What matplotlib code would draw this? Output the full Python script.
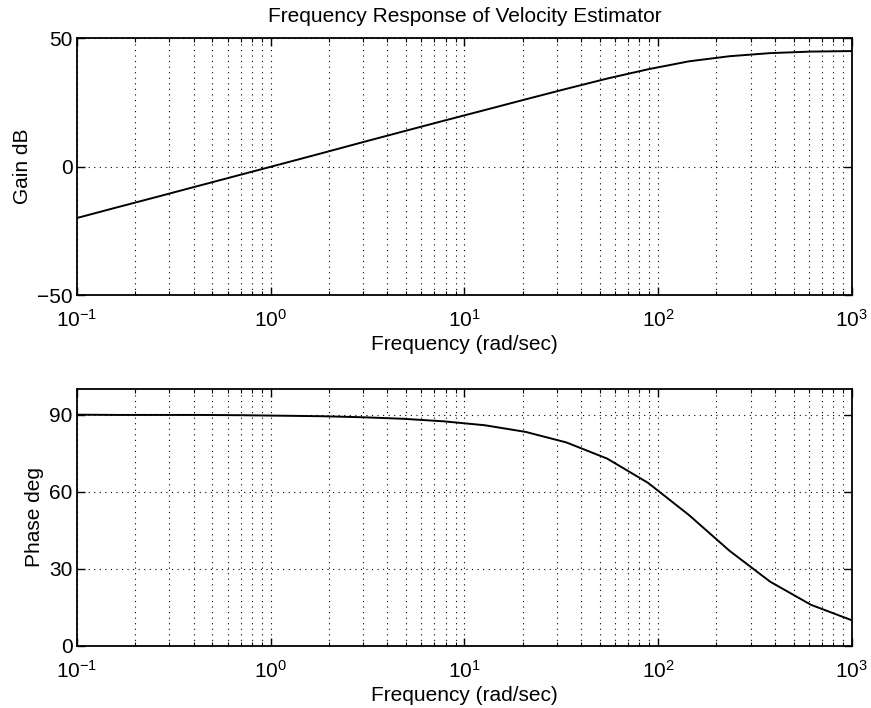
import matplotlib
matplotlib.use("Agg")
import matplotlib.pyplot as plt
from matplotlib.ticker import LogLocator, NullFormatter

plt.rcParams['font.family'] = ['Liberation Sans', 'DejaVu Sans']
plt.rcParams['mathtext.fontset'] = 'custom'
plt.rcParams['mathtext.rm'] = 'Liberation Sans'
plt.rcParams['mathtext.it'] = 'Liberation Sans'

# Data
freq = [0.1, 0.162, 0.264, 0.428, 0.695, 1.13, 1.83, 2.98, 4.83, 7.85,
        12.7, 20.7, 33.6, 54.6, 88.6, 144, 234, 379, 616, 1000]
gain_db = [-20.0, -15.8, -11.6, -7.4, -3.2, 1.0, 5.2, 9.5, 13.7, 17.9,
           22.0, 26.2, 30.3, 34.3, 37.9, 41.0, 43.0, 44.2, 44.8, 45.0]
phase_deg = [90.0, 89.9, 89.9, 89.9, 89.8, 89.6, 89.4, 89.0, 88.4, 87.4,
             85.9, 83.3, 79.2, 72.9, 63.5, 51.0, 37.0, 25.0, 16.0, 10.0]

gain_ticks = [-50, 0, 50]
phase_ticks = [0, 30, 60, 90]
title = "Frequency Response of Velocity Estimator"
xlabel = "Frequency (rad/sec)"

fig = plt.figure(figsize=(8.71, 7.08), dpi=100)
ax1 = fig.add_axes([0.0884, 0.5833, 0.8896, 0.3627])
ax2 = fig.add_axes([0.0884, 0.0876, 0.8896, 0.3630])

FS = 15

def style(ax, yticks, ylim, ylabel):
    ax.set_xscale('log')
    ax.set_xlim(0.1, 1000)
    ax.set_ylim(*ylim)
    ax.set_yticks(yticks)
    ax.yaxis.set_major_formatter(matplotlib.ticker.FuncFormatter(
        lambda v, p: ('\u2212%d' % -v) if v < 0 else '%d' % v))
    ax.xaxis.set_major_locator(LogLocator(base=10, numticks=10))
    ax.xaxis.set_minor_locator(LogLocator(base=10, subs=range(2, 10), numticks=20))
    ax.xaxis.set_minor_formatter(NullFormatter())
    ax.grid(True, which='major', color='black', linestyle=(0, (1, 4)), linewidth=0.8)
    ax.grid(True, which='minor', axis='x', color='black', linestyle=(0, (1, 4)), linewidth=0.8)
    ax.tick_params(which='both', direction='in', top=True, right=True, labelsize=FS)
    ax.tick_params(which='major', length=6, width=1.0)
    ax.tick_params(which='minor', length=3, width=0.8)
    ax.tick_params(axis='x', pad=10)
    ax.tick_params(axis='y', pad=3)
    for s in ax.spines.values():
        s.set_linewidth(1.3)
    ax.set_xlabel(xlabel, fontsize=FS, labelpad=3)
    ax.set_ylabel(ylabel, fontsize=FS, labelpad=4)

ax1.plot(freq, gain_db, color='black', linewidth=1.4)
style(ax1, gain_ticks, (-50, 50), "Gain dB")
ax1.set_title(title, fontsize=FS, pad=12)

ax2.plot(freq, phase_deg, color='black', linewidth=1.4)
style(ax2, phase_ticks, (0, 100), "Phase deg")

fig.savefig("out.png", dpi=100)
